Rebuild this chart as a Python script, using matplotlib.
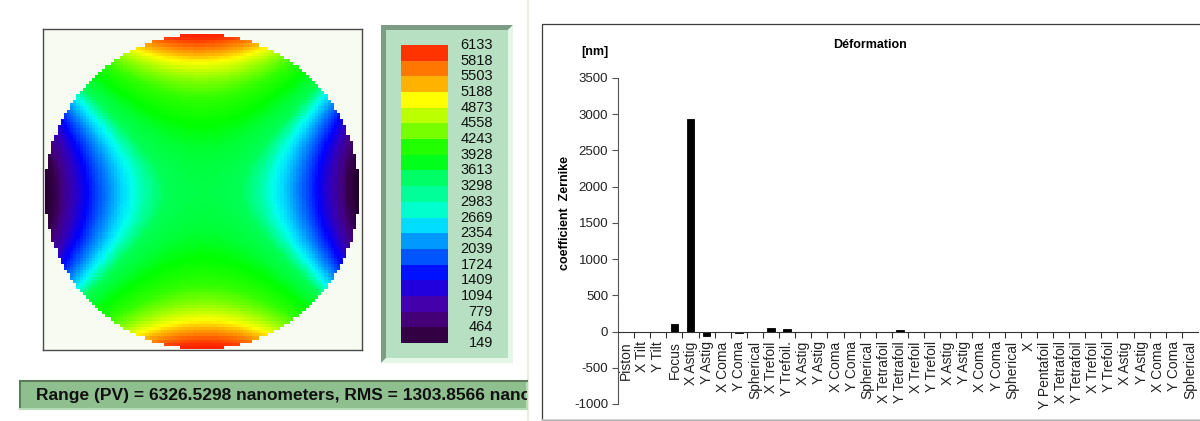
import numpy as np
import matplotlib.pyplot as plt
from matplotlib.patches import Rectangle, Polygon
from matplotlib.colors import LinearSegmentedColormap, Normalize

plt.rcParams['font.family'] = ['Liberation Sans', 'DejaVu Sans']
plt.rcParams['axes.unicode_minus'] = False

# Zernike coefficients [nm]
termes = ['Piston', 'X Tilt', 'Y Tilt', 'Focus', 'X Astig', 'Y Astig', 'X Coma', 'Y Coma',
          'Spherical', 'X Trefoil', 'Y Trefoil.', 'X Astig', 'Y Astig', 'X Coma', 'Y Coma',
          'Spherical', 'X Tetrafoil', 'Y Tetrafoil', 'X Trefoil', 'Y Trefoil', 'X Astig',
          'Y Astig', 'X Coma', 'Y Coma', 'Spherical', 'X', 'Y Pentafoil', 'X Tetrafoil',
          'Y Tetrafoil', 'X Trefoil', 'Y Trefoil', 'X Astig', 'Y Astig', 'X Coma', 'Y Coma',
          'Spherical']
coefs = [0, -5, 0, 105, 2940, -55, -5, -22, 0, 45, 35, 0, 0, -5, -5, -5, -5, 15, -5, -5,
         0, -5, 0, 0, 0, -5, 0, 0, -5, 0, 0, 0, -5, -5, 0, 0]
yticks = [-1000, -500, 0, 500, 1000, 1500, 2000, 2500, 3000, 3500]

# colour scale of the map (bottom to top)
niveaux = [149, 464, 779, 1094, 1409, 1724, 2039, 2354, 2669, 2983, 3298, 3613, 3928,
           4243, 4558, 4873, 5188, 5503, 5818, 6133]
couleurs = ['#330044', '#440077', '#4400aa', '#2200dd', '#0011ff', '#0055ff', '#0099ff',
            '#00ddff', '#00ffcc', '#00ff99', '#00ff66', '#00ff1a', '#22ff00', '#77ff00',
            '#bbff00', '#ffff00', '#ffb300', '#ff7700', '#ff3300']
pv = 6326.5298
rms = 1303.8566

# continuous shading used inside the map
degrade = [(0.0, '#22002e'), (0.05, '#330044'), (0.09, '#440080'), (0.15, '#3300bb'),
           (0.21, '#0000ff'), (0.26, '#0050ff'), (0.30, '#0090ff'), (0.345, '#00ddff'),
           (0.37, '#00ffee'), (0.40, '#00ffaa'), (0.44, '#00ff55'), (0.50, '#00ff33'),
           (0.56, '#00ff00'), (0.66, '#33ff00'), (0.74, '#88ff00'), (0.78, '#bbff00'),
           (0.83, '#ffff00'), (0.87, '#ffbb00'), (0.92, '#ff7700'), (0.97, '#ff3300'),
           (1.0, '#ff2200')]

fig = plt.figure(figsize=(12, 4.21), dpi=100)

# background layer in pixel coordinates
bg = fig.add_axes([0, 0, 1, 1])
bg.set_xlim(0, 1200)
bg.set_ylim(421, 0)
bg.axis('off')

# separator + right panel frame
bg.plot([528, 528], [0, 421], color='#ecece4', lw=1.5)
bg.add_patch(Rectangle((542, 23.5), 700, 396, fill=False, edgecolor='#3c3c3c', lw=0.9))
bg.plot([542, 1200], [419.5, 419.5], color='#cfcfcf', lw=1.2)

# colour scale panel
bg.add_patch(Rectangle((381, 25), 132, 338, facecolor='#b7dfc1', edgecolor='none'))
bg.add_patch(Polygon([(381, 25), (513, 25), (508, 30), (386, 30), (386, 358), (381, 363)],
                     facecolor='#7c9c84', edgecolor='none'))
bg.add_patch(Polygon([(513, 25), (513, 363), (381, 363), (386, 358), (508, 358), (508, 30)],
                     facecolor='#e4f6e8', edgecolor='none'))
h = (343 - 45) / len(couleurs)
for k, c in enumerate(couleurs):
    bg.add_patch(Rectangle((401, 343 - (k + 1) * h), 47, h, facecolor=c, edgecolor='none'))
for i, v in enumerate(niveaux):
    bg.text(493, 343 - i * h, str(v), ha='right', va='center', fontsize=10.5, color='#111111')

# labels of the bar chart
bg.text(870, 45, 'Déformation', ha='center', va='center', fontsize=9, fontweight='bold')
bg.text(581, 52, '[nm]', ha='left', va='center', fontsize=9, fontweight='bold')
bg.text(565, 213, 'coefficient  Zernike', ha='center', va='center', rotation=90,
        fontsize=9, fontweight='bold')

# surface from the first 9 fringe Zernike terms (display rotated 90 deg)
n = 100
g = (np.arange(n) + 0.5) / n * 2 - 1
X, Y = np.meshgrid(g, -g)
xz, yz = Y, X
r2 = xz ** 2 + yz ** 2
zern = [np.ones_like(r2), xz, yz, 2 * r2 - 1, xz ** 2 - yz ** 2, 2 * xz * yz,
        (3 * r2 - 2) * xz, (3 * r2 - 2) * yz, 6 * r2 ** 2 - 6 * r2 + 1]
W = sum(c * z for c, z in zip(coefs[:9], zern))
W = np.ma.masked_where(r2 > 1, W)

cmap = LinearSegmentedColormap.from_list('carte', degrade)
cmap.set_bad((0, 0, 0, 0))

axm = fig.add_axes([43 / 1200, (421 - 350) / 421, 319 / 1200, 321 / 421])
axm.set_facecolor('#f7fbf2')
axm.imshow(W, cmap=cmap, norm=Normalize(W.min(), W.max()), interpolation='nearest',
           extent=[44.5, 358, 349, 34], aspect='auto')
axm.set_xlim(43, 362)
axm.set_ylim(350, 29)
axm.set_xticks([])
axm.set_yticks([])
for s in axm.spines.values():
    s.set_color('#4a4a4a')
    s.set_linewidth(1.0)

# status bar (text cut by the panel edge, as on screen)
axs = fig.add_axes([20 / 1200, (421 - 409) / 421, 507 / 1200, 28 / 421])
axs.set_facecolor('#8fbf8f')
axs.set_xticks([])
axs.set_yticks([])
for side in ['top', 'left']:
    axs.spines[side].set_color('#5c7c5c')
    axs.spines[side].set_linewidth(1.5)
for side in ['bottom', 'right']:
    axs.spines[side].set_color('#b8dcb8')
    axs.spines[side].set_linewidth(1.5)
axs.text(16 / 507, 0.48, 'Range (PV) = %.4f nanometers, RMS = %.4f nano' % (pv, rms),
         transform=axs.transAxes, ha='left', va='center', fontsize=12.5, fontweight='bold',
         color='#101010', clip_on=True)

# bar chart
axb = fig.add_axes([618 / 1200, (421 - 404) / 421, 580 / 1200, 326 / 421])
x = np.arange(len(termes))
axb.bar(x, coefs, width=0.47, color='black', edgecolor='black', linewidth=0.6)
axb.set_xlim(-0.5, len(termes) - 0.5)
axb.set_ylim(-1000, 3500)
axb.set_yticks(yticks)
axb.tick_params(axis='y', direction='out', length=4, color='#555555', labelsize=9.5,
                labelcolor='#222222', pad=3)
axb.spines['bottom'].set_position(('data', 0))
axb.spines['bottom'].set_color('#333333')
axb.spines['left'].set_color('#555555')
axb.spines['top'].set_visible(False)
axb.spines['right'].set_visible(False)
axb.set_xticks(np.arange(0.5, len(termes) - 0.5, 1))
axb.set_xticklabels([])
axb.set_xticks(x, minor=True)
axb.set_xticklabels(termes, minor=True, rotation=90, fontsize=10, color='#222222')
axb.tick_params(axis='x', which='major', direction='out', length=4, color='#333333')
axb.tick_params(axis='x', which='minor', length=0, pad=7)
axb.patch.set_alpha(0)

fig.savefig('out.png', dpi=100)
